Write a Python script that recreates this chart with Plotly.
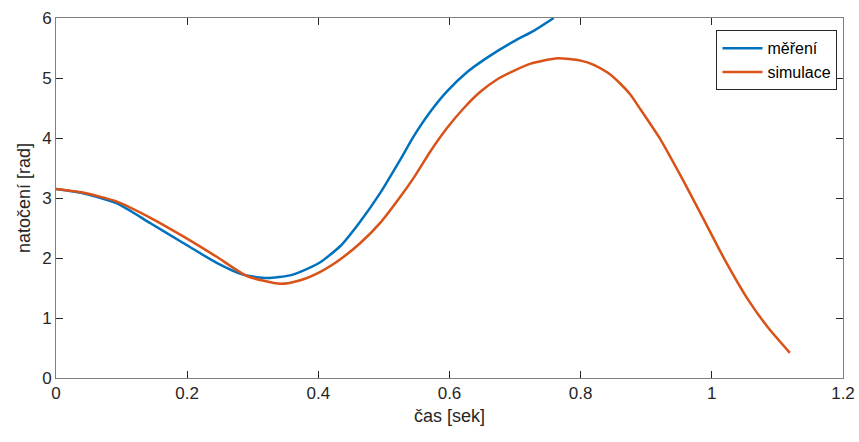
import plotly.graph_objects as go

# měření (measurement)
t_meas = [0.0, 0.041, 0.093, 0.144, 0.194, 0.245, 0.286, 0.322, 0.357, 0.3725, 0.403,
          0.4336, 0.464, 0.4947, 0.525, 0.5456, 0.571, 0.5965, 0.627, 0.6575, 0.698,
          0.729, 0.759]
y_meas = [3.15, 3.08, 2.91, 2.58, 2.25, 1.92, 1.72, 1.665, 1.71, 1.77, 1.93,
          2.20, 2.61, 3.09, 3.64, 4.03, 4.44, 4.78, 5.10, 5.34, 5.61,
          5.79, 6.0]

# simulace (simulation)
t_sim = [0.0, 0.041, 0.093, 0.144, 0.194, 0.245, 0.291, 0.342, 0.3725, 0.403, 0.4336,
         0.464, 0.4947, 0.525, 0.5456, 0.571, 0.5965, 0.622, 0.647, 0.673, 0.698,
         0.7237, 0.765, 0.8, 0.82, 0.841, 0.861, 0.876, 0.8916, 0.922, 0.953, 0.983,
         1.0188, 1.055, 1.085, 1.119]
y_sim = [3.15, 3.09, 2.94, 2.67, 2.36, 2.02, 1.70, 1.57, 1.63, 1.77, 1.98,
         2.25, 2.59, 3.02, 3.34, 3.78, 4.17, 4.50, 4.77, 4.98, 5.12,
         5.24, 5.33, 5.29, 5.22, 5.09, 4.90, 4.72, 4.47, 3.97, 3.36, 2.74,
         1.99, 1.31, 0.85, 0.42]

x_ticks = [0, 0.2, 0.4, 0.6, 0.8, 1, 1.2]
x_tick_labels = ["0", "0.2", "0.4", "0.6", "0.8", "1", "1.2"]
y_ticks = [0, 1, 2, 3, 4, 5, 6]

fig = go.Figure()
fig.add_trace(go.Scatter(x=t_meas, y=y_meas, mode="lines", name="měření",
                         line=dict(color="#0072BD", width=2.5, shape="spline", smoothing=0.6)))
fig.add_trace(go.Scatter(x=t_sim, y=y_sim, mode="lines", name="simulace",
                         line=dict(color="#D95319", width=2.5, shape="spline", smoothing=0.6)))

axis_common = dict(showgrid=False, zeroline=False, showline=True, linecolor="#808080",
                   linewidth=1, mirror="ticks", ticks="inside", ticklen=7,
                   tickcolor="#262626", tickwidth=1, automargin=False,
                   tickfont=dict(family="Liberation Sans, Arial", size=17, color="#262626"))

fig.update_layout(
    width=859, height=442,
    margin=dict(l=56, r=16, t=18, b=64),
    paper_bgcolor="white", plot_bgcolor="white",
    xaxis=dict(range=[0, 1.2], tickvals=x_ticks, ticktext=x_tick_labels,
               title=dict(text="čas [sek]", standoff=6,
                          font=dict(family="Liberation Sans, Arial", size=18, color="#262626")),
               **axis_common),
    yaxis=dict(range=[0, 6], tickvals=y_ticks,
               title=dict(text="natočení [rad]", standoff=6,
                          font=dict(family="Liberation Sans, Arial", size=18, color="#262626")),
               **axis_common),
    legend=dict(x=0.993, y=0.966, xanchor="right", yanchor="top",
                bgcolor="white", bordercolor="#262626", borderwidth=1,
                font=dict(family="Liberation Sans, Arial", size=16, color="#000000"),
                itemwidth=40, tracegroupgap=0),
    showlegend=True,
)

fig.write_html("out.html")
